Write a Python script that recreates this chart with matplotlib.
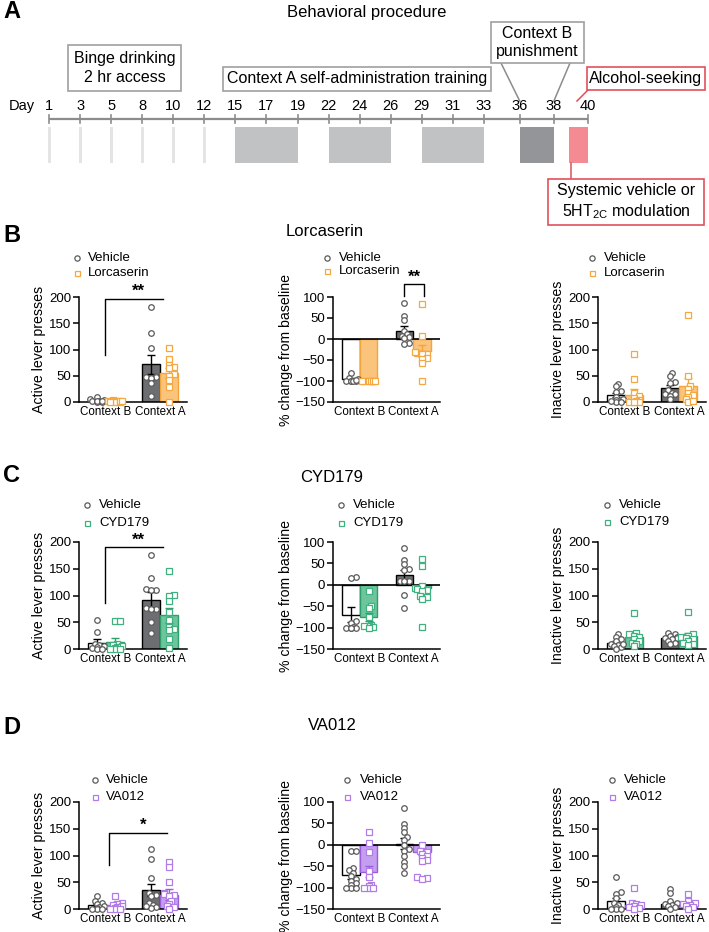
import matplotlib
matplotlib.use('Agg')
import matplotlib.pyplot as plt
from matplotlib.patches import Rectangle

plt.rcParams['font.family'] = ['Liberation Sans', 'DejaVu Sans']
plt.rcParams['mathtext.fontset'] = 'custom'
plt.rcParams['mathtext.rm'] = 'Liberation Sans'

# ---------------- data ----------------
days = [1, 3, 5, 8, 10, 12, 15, 17, 19, 22, 24, 26, 29, 31, 33, 36, 38, 40]
day_slot = [0, 1, 2, 3, 4, 5, 6, 7, 8, 9, 10, 11, 12, 13, 14, 15.15, 16.25, 17.35]
binge_days = [1, 3, 5, 8, 10, 12]
training_blocks = [(15, 19), (22, 26), (29, 33)]
punish_block = (36, 38)
test_day = 40

contexts = ['Context B', 'Context A']

# Lorcaserin  (each: [Context B points, Context A points]); means/sems: [vehicle, drug] x [B, A]
lor_act_veh = [[9, 5, 3, 2, 1, 0, 0, 1, 2], [181, 132, 102, 50, 48, 47, 45, 36, 12]]
lor_act_drug = [[3, 2, 1, 1, 0, 0, 1, 2, 0, 1], [102, 81, 71, 66, 64, 53, 50, 42, 29, 0]]
lor_act_mean = [[3, 72], [1, 55]]
lor_act_sem = [[1, 18], [0.5, 9]]

lor_pct_veh = [[-80, -93, -95, -100, -100, -100, -100, -100, -98], [86, 55, 45, 18, 12, 8, 5, 2, -10, -12]]
lor_pct_drug = [[-100, -100, -100, -100, -100, -100, -100, -100], [83, 8, -33, -35, -36, -45, -48, -58, -100, -30]]
lor_pct_mean = [[-96, 19], [-100, -29]]
lor_pct_sem = [[2.5, 12], [0, 14]]

lor_inact_veh = [[35, 30, 21, 19, 10, 5, 3, 0, 0, 2], [55, 50, 38, 36, 22, 18, 15, 15, 12, 5]]
lor_inact_drug = [[92, 43, 18, 12, 8, 3, 2, 0, 0, 0, 0], [166, 50, 30, 25, 18, 14, 10, 5, 0, 2]]
lor_inact_mean = [[13, 26], [14, 31]]
lor_inact_sem = [[4, 6], [10, 15]]

# CYD179
cyd_act_veh = [[55, 32, 10, 8, 5, 3, 2, 0, 0], [175, 132, 112, 111, 110, 76, 75, 74, 50, 29]]
cyd_act_drug = [[53, 53, 10, 8, 5, 3, 2, 0, 0, 0], [146, 101, 99, 89, 69, 55, 42, 38, 18, 2, 35]]
cyd_act_mean = [[12, 92], [13, 63]]
cyd_act_sem = [[6, 15], [8, 14]]

cyd_pct_veh = [[18, 17, -85, -90, -98, -100, -100, -100, -100], [87, 58, 48, 38, 35, 10, 10, 9, -24, -55]]
cyd_pct_drug = [[-15, -49, -55, -75, -95, -96, -97, -98, -100], [61, 45, -2, -8, -10, -12, -15, -26, -28, -33, -98]]
cyd_pct_mean = [[-70, 22], [-76, -8]]
cyd_pct_sem = [[17, 12], [9, 5]]

cyd_inact_veh = [[28, 22, 18, 15, 10, 8, 5, 3, 0, 10], [30, 28, 25, 22, 20, 20, 18, 15, 12, 10]]
cyd_inact_drug = [[68, 30, 28, 25, 22, 18, 15, 12, 10, 5], [70, 28, 25, 22, 20, 18, 15, 12, 10, 8]]
cyd_inact_mean = [[12, 21], [22, 24]]
cyd_inact_sem = [[3, 3], [6, 6]]

# VA012
va_act_veh = [[24, 15, 12, 9, 6, 4, 2, 0, 0, 0], [113, 93, 58, 30, 26, 24, 12, 8, 3, 2, 5]]
va_act_drug = [[24, 12, 10, 8, 5, 3, 2, 0, 0, 0], [88, 78, 51, 30, 28, 27, 25, 15, 10, 5, 3, 0]]
va_act_mean = [[7, 35], [8, 27]]
va_act_sem = [[2, 11], [2.5, 10]]

va_pct_veh = [[-15, -15, -55, -60, -65, -72, -80, -85, -90, -95, -100, -100, -100],
              [87, 48, 40, 30, 18, 12, 0, -10, -15, -25, -40, -50, -65]]
va_pct_drug = [[31, 5, -17, -62, -75, -95, -97, -100, -100, -100],
               [0, -15, -17, -22, -25, -30, -35, -38, -76, -78, -80]]
va_pct_mean = [[-70, 3], [-63, -16]]
va_pct_sem = [[9, 12], [13, 8]]

va_inact_veh = [[60, 32, 28, 20, 12, 8, 3, 0, 0, 0], [37, 30, 15, 12, 10, 8, 5, 3, 0]]
va_inact_drug = [[40, 12, 10, 8, 5, 3, 2, 0], [28, 15, 12, 10, 8, 5, 3, 0]]
va_inact_mean = [[15, 10], [8, 10]]
va_inact_sem = [[5, 3], [4, 3]]

# ---------------- style ----------------
W, H = 709, 932
fig = plt.figure(figsize=(W / 100, H / 100), dpi=100)
ov = fig.add_axes([0, 0, 1, 1])
ov.set_xlim(0, W)
ov.set_ylim(H, 0)
ov.axis('off')

VEH_EDGE = '#5a5a5a'
VEH_FILL = ['white', '#6d6e71']
DRUGS = {
    'Lorcaserin': dict(fill='#fbc47c', edge='#f3a43a', pt='#f5a83f'),
    'CYD179': dict(fill='#6cc59c', edge='#2f9e6b', pt='#3fb07f'),
    'VA012': dict(fill='#c49ef0', edge='#9a5fd8', pt='#b07ce8'),
}


def px_axes(x0, x1, y0, y1):
    return fig.add_axes([x0 / W, 1 - y1 / H, (x1 - x0) / W, (y1 - y0) / H])


def swarm(vals, x_per_px, y_per_px, dist=3.4, maxoff=7.5):
    placed = []
    offs = [0.0] * len(vals)
    order = sorted(range(len(vals)), key=lambda i: vals[i])
    for i in order:
        ypx = vals[i] / y_per_px
        chosen = None
        for k in range(0, 12):
            for s in ([0] if k == 0 else [1, -1]):
                o = s * k * 2.3
                if abs(o) > maxoff:
                    continue
                if all((o - px) ** 2 + (ypx - py) ** 2 >= dist ** 2 for px, py in placed):
                    chosen = o
                    break
            if chosen is not None:
                break
        if chosen is None:
            chosen = ((len(placed) % 7) - 3) * 2.3
        placed.append((chosen, ypx))
        offs[i] = chosen * x_per_px
    return offs


def draw_panel(ax, veh, drug, means, sems, drugname, ylim, yticks, ylabel, pct=False):
    col = DRUGS[drugname]
    ax.set_xlim(0, 4)
    ax.set_ylim(*ylim)
    pos = ax.get_position()
    wpx, hpx = pos.width * W, pos.height * H
    x_per_px = 4 / wpx
    y_per_px = (ylim[1] - ylim[0]) / hpx
    bw = 0.66
    for gi, c in enumerate([1, 3]):
        xv, xd = c - bw / 2, c + bw / 2
        ax.bar(xv, means[0][gi], bw, color=VEH_FILL[gi], edgecolor='black', lw=1.0, zorder=2)
        ax.bar(xd, means[1][gi], bw, color=col['fill'], edgecolor=col['edge'], lw=1.0, zorder=2)
        if sems[0][gi] > 0:
            ax.errorbar(xv, means[0][gi], yerr=sems[0][gi], fmt='none', ecolor='black',
                        elinewidth=1.0, capsize=3, capthick=1.0, zorder=3)
        if sems[1][gi] > 0:
            ax.errorbar(xd, means[1][gi], yerr=sems[1][gi], fmt='none', ecolor=col['edge'],
                        elinewidth=1.0, capsize=3, capthick=1.0, zorder=3)
        ov_ = swarm(veh[gi], x_per_px, y_per_px)
        ax.plot([xv + o for o in ov_], veh[gi], 'o', ms=4.0, mfc='white', mec=VEH_EDGE,
                mew=0.9, zorder=5, clip_on=False, ls='none')
        od_ = swarm(drug[gi], x_per_px, y_per_px)
        ax.plot([xd + o for o in od_], drug[gi], 's', ms=3.8, mfc='white', mec=col['pt'],
                mew=0.9, zorder=5, clip_on=False, ls='none')
    if pct:
        ax.axhline(0, color='black', lw=1.2, zorder=4)
    ax.set_yticks(yticks)
    ax.set_xticks([1, 3])
    ax.set_xticklabels(contexts, fontsize=8.4)
    ax.tick_params(axis='x', length=0, pad=3)
    ax.tick_params(axis='y', length=4, width=1.1, labelsize=9.5, pad=1.5, direction='out')
    for s in ['top', 'right']:
        ax.spines[s].set_visible(False)
    for s in ['left', 'bottom']:
        ax.spines[s].set_linewidth(1.1)
    ax.set_ylabel(ylabel, fontsize=10.2, labelpad=2)
    ax.patch.set_alpha(0)


def bracket_long(ax, x0, ybot, ytop, x1, star, xs):
    ax.plot([x0, x0, x1], [ybot, ytop, ytop], color='black', lw=1.0, clip_on=False, zorder=6)
    ax.text(xs, ytop, star, ha='center', va='bottom', fontsize=12, fontweight='bold', clip_on=False)


def legend(mx, tx, y1, y2, drugname):
    col = DRUGS[drugname]
    ov.plot([mx], [y1], 'o', ms=3.8, mfc='white', mec=VEH_EDGE, mew=0.9)
    ov.plot([mx], [y2], 's', ms=3.6, mfc='white', mec=col['pt'], mew=0.9)
    ov.text(tx, y1, 'Vehicle', ha='left', va='center', fontsize=9.5)
    ov.text(tx, y2, drugname, ha='left', va='center', fontsize=9.5)


# ---------------- panel A ----------------
ov.text(3, 12, 'A', fontsize=17, fontweight='bold', ha='left', va='center')
ov.text(367, 12, 'Behavioral procedure', fontsize=12, ha='center', va='center')

TL_Y, X0, STEP = 119, 49, 31.07


def dx(day):
    return X0 + day_slot[days.index(day)] * STEP


ov.plot([dx(days[0]), dx(days[-1])], [TL_Y, TL_Y], color='#8c8c8c', lw=1.6, solid_capstyle='butt')
for d in days:
    ov.plot([dx(d), dx(d)], [TL_Y - 4, TL_Y + 4], color='#8c8c8c', lw=1.2)
    ov.text(dx(d), 106, str(d), fontsize=10.5, ha='center', va='center')
ov.text(22, 106, 'Day', fontsize=10.5, ha='center', va='center')

for d in binge_days:
    ov.add_patch(Rectangle((dx(d) - 1.5, 127), 3, 36, color='#e4e4e4', lw=0))
for a, b in training_blocks:
    ov.add_patch(Rectangle((dx(a), 127), dx(b) - dx(a), 36, color='#c1c2c4', lw=0))
ov.add_patch(Rectangle((dx(punish_block[0]), 127), dx(punish_block[1]) - dx(punish_block[0]), 36,
                       color='#939598', lw=0))
ov.add_patch(Rectangle((dx(test_day) - 19, 127), 19, 36, color='#f48b93', lw=0))


def box(x0, y0, x1, y1, text, ec, fs=11.5):
    ov.add_patch(Rectangle((x0, y0), x1 - x0, y1 - y0, fc='white', ec=ec, lw=1.2, zorder=3))
    ov.text((x0 + x1) / 2, (y0 + y1) / 2, text, ha='center', va='center', fontsize=fs,
            linespacing=1.25, zorder=4)


GRAYB = '#a0a0a0'
REDB = '#e0505a'
box(68, 45, 181, 91, 'Binge drinking\n2 hr access', GRAYB)
box(223, 67, 491, 91, 'Context A self-administration training', GRAYB)
box(491, 22, 584, 63, 'Context B\npunishment', GRAYB)
ov.plot([501, dx(36)], [63, 101], color='#8c8c8c', lw=1.1)
ov.plot([570, dx(38)], [63, 101], color='#8c8c8c', lw=1.1)
box(587, 67, 705, 90, 'Alcohol-seeking', REDB)
ov.plot([577, 588], [101, 90], color=REDB, lw=1.1)
ov.plot([571, 571], [163, 179], color=REDB, lw=1.1)
box(548, 179, 704, 225, 'Systemic vehicle or\n5HT$_{\\mathregular{2C}}$ modulation', REDB)

# ---------------- panels B-D ----------------
ACT_LIM, ACT_T = (0, 200), [0, 50, 100, 150, 200]
PCT_LIM, PCT_T = (-150, 100), [-150, -100, -50, 0, 50, 100]

rows = [
    ('B', 'Lorcaserin', 235, 325, 232, (297, 402),
     [(lor_act_veh, lor_act_drug, lor_act_mean, lor_act_sem),
      (lor_pct_veh, lor_pct_drug, lor_pct_mean, lor_pct_sem),
      (lor_inact_veh, lor_inact_drug, lor_inact_mean, lor_inact_sem)],
     [(77, 88, 258, 273), (327, 339, 258, 271), (592, 604, 258, 273)]),
    ('C', 'CYD179', 476, 332, 477, (542, 649),
     [(cyd_act_veh, cyd_act_drug, cyd_act_mean, cyd_act_sem),
      (cyd_pct_veh, cyd_pct_drug, cyd_pct_mean, cyd_pct_sem),
      (cyd_inact_veh, cyd_inact_drug, cyd_inact_mean, cyd_inact_sem)],
     [(87, 99, 505, 523), (341, 353, 505, 523), (607, 619, 505, 522)]),
    ('D', 'VA012', 727, 332, 725, (802, 909),
     [(va_act_veh, va_act_drug, va_act_mean, va_act_sem),
      (va_pct_veh, va_pct_drug, va_pct_mean, va_pct_sem),
      (va_inact_veh, va_inact_drug, va_inact_mean, va_inact_sem)],
     [(95, 106, 780, 797), (347, 360, 780, 797), (612, 624, 780, 797)]),
]
xcols = [(79, 187), (333, 440), (598, 706)]
ylabels = ['Active lever presses', '% change from baseline', 'Inactive lever presses']

axes_rows = []
for letter, drug, ly, tx, ty, (yt, yb), datasets, legs in rows:
    ov.text(3, ly, letter, fontsize=17, fontweight='bold', ha='left', va='center')
    ov.text(tx, ty, drug, fontsize=12, ha='center', va='center')
    axs = []
    for ci, ((x0, x1), ds, lg) in enumerate(zip(xcols, datasets, legs)):
        ax = px_axes(x0, x1, yt, yb)
        pct = ci == 1
        draw_panel(ax, ds[0], ds[1], ds[2], ds[3], drug,
                   PCT_LIM if pct else ACT_LIM, PCT_T if pct else ACT_T, ylabels[ci], pct)
        legend(*lg, drug)
        axs.append(ax)
    axes_rows.append(axs)

# significance
bracket_long(axes_rows[0][0], 0.96, 90, 196, 3.1, '**', 2.2)
bracket_long(axes_rows[1][0], 0.96, 86, 190, 3.1, '**', 2.2)
bracket_long(axes_rows[2][0], 1.1, 82, 142, 3.25, '*', 2.37)
axm = axes_rows[0][1]
axm.plot([2.67, 2.67, 3.4, 3.4], [102, 130, 130, 102], color='black', lw=1.0, clip_on=False)
axm.text(3.03, 130, '**', ha='center', va='bottom', fontsize=12, fontweight='bold')

fig.savefig('out.png', dpi=100)
